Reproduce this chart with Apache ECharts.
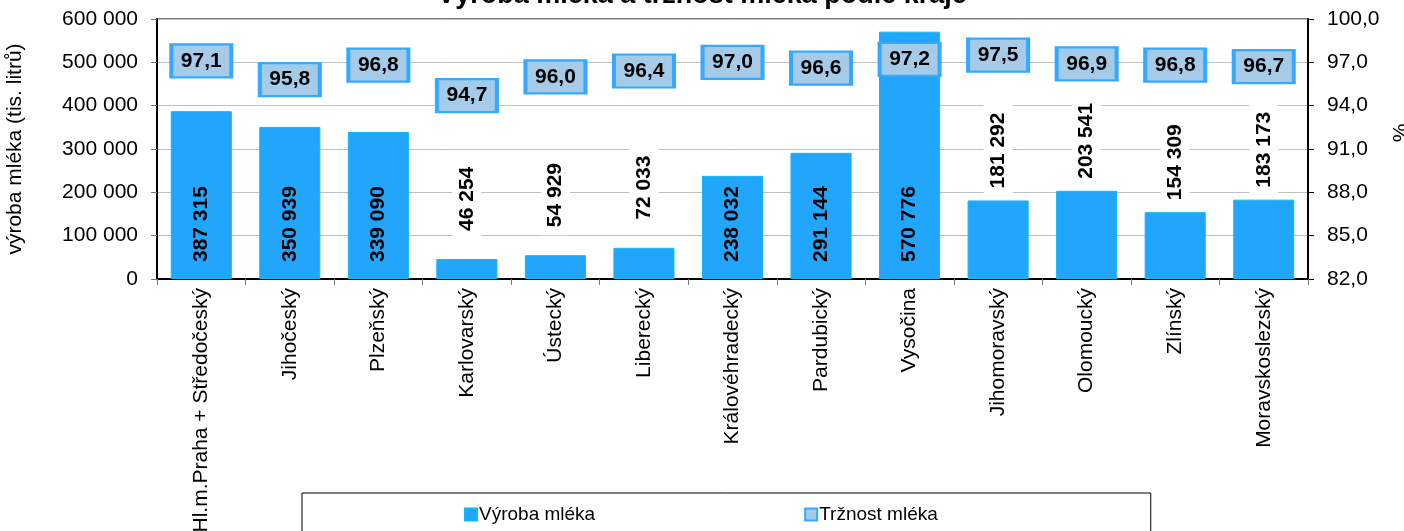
<!DOCTYPE html>
<html>
<head>
<meta charset="utf-8">
<script src="https://cdn.jsdelivr.net/npm/echarts@6/dist/echarts.min.js"></script>
<style>
  html, body { margin: 0; padding: 0; background: #fff; }
  #chart { width: 1404px; height: 531px; }
</style>
</head>
<body>
<div id="chart"></div>
<script>
const regions = [
  "Hl.m.Praha + Středočeský", "Jihočeský", "Plzeňský", "Karlovarský", "Ústecký",
  "Liberecký", "Královéhradecký", "Pardubický", "Vysočina", "Jihomoravský",
  "Olomoucký", "Zlínský", "Moravskoslezský"
];
const milkProduction = [387315, 350939, 339090, 46254, 54929, 72033, 238032, 291144, 570776, 181292, 203541, 154309, 183173];
const marketability = [97.1, 95.8, 96.8, 94.7, 96.0, 96.4, 97.0, 96.6, 97.2, 97.5, 96.9, 96.8, 96.7];

const FONT = "Liberation Sans, Arial, sans-serif";

function fmtThousands(v) {
  return String(v).replace(/\B(?=(\d{3})+(?!\d))/g, " ");
}
function fmtPct(v) {
  return v.toFixed(1).replace(".", ",");
}

// tall bars get the label inside, short ones above with a white box
const barData = milkProduction.map((v) => {
  if (v > 230000) {
    return {
      value: v,
      label: { position: "insideBottom", distance: 17 }
    };
  }
  return {
    value: v,
    label: {
      position: "top",
      distance: v < 100000 ? 20 : 4,
      backgroundColor: "#fff",
      padding: [4, 8]
    }
  };
});

const chart = echarts.init(document.getElementById("chart"));
chart.setOption({
  animation: false,
  textStyle: { fontFamily: FONT },
  title: {
    text: "Výroba mléka a tržnost mléka podle kraje",
    left: "center",
    top: -23,
    textStyle: { fontSize: 27, fontWeight: "bold", color: "#000", fontFamily: FONT }
  },
  grid: {
    left: 157, right: 96, top: 19, bottom: 252,
    outerBoundsMode: "none",
    containLabel: false,
    show: true, borderColor: "#000", borderWidth: 1
  },
  legend: {
    left: 302,
    top: 493,
    padding: [12, 213, 30, 162],
    itemGap: 209,
    itemWidth: 12,
    itemHeight: 12,
    borderColor: "#000",
    borderWidth: 1,
    textStyle: { fontSize: 19, color: "#000", fontFamily: FONT, padding: [0, 0, 0, -3] },
    data: [{ name: "Výroba mléka", icon: "rect" }, { name: "Tržnost mléka", icon: "rect" }]
  },
  xAxis: {
    type: "category",
    data: regions,
    axisLine: { lineStyle: { color: "#000", width: 2 } },
    axisTick: { show: true, length: 6, lineStyle: { color: "#777" } },
    axisLabel: { rotate: 90, fontSize: 21, color: "#000", margin: 9, fontFamily: FONT }
  },
  yAxis: [
    {
      type: "value",
      min: 0, max: 600000, interval: 100000,
      name: "výroba mléka (tis. litrů)",
      nameLocation: "middle",
      nameGap: 131,
      nameTextStyle: { fontSize: 21, color: "#000", fontFamily: FONT },
      axisLine: { show: true, lineStyle: { color: "#000", width: 2 } },
      axisTick: { show: true, length: 6, lineStyle: { color: "#777" } },
      axisLabel: { fontSize: 21, color: "#000", margin: 19, formatter: fmtThousands, fontFamily: FONT },
      splitLine: { lineStyle: { color: "#c0c0c0", width: 1 } }
    },
    {
      type: "value",
      min: 82, max: 100, interval: 3,
      name: "%",
      nameLocation: "middle",
      nameGap: 70,
      nameRotate: 90,
      nameTextStyle: { fontSize: 21, color: "#000", fontFamily: FONT, padding: [0, 0, 0, 32] },
      axisLine: { show: true, lineStyle: { color: "#000", width: 2 } },
      axisTick: { show: true, length: 6, lineStyle: { color: "#000" } },
      axisLabel: { fontSize: 21, color: "#000", margin: 19, formatter: fmtPct, fontFamily: FONT },
      splitLine: { show: false }
    }
  ],
  series: [
    {
      name: "Výroba mléka",
      type: "bar",
      barWidth: "69%",
      data: barData,
      itemStyle: { color: "#22a6fb", borderColor: "#12b8f2", borderWidth: 1 },
      label: {
        show: true,
        rotate: 90,
        align: "left",
        verticalAlign: "middle",
        fontSize: 21,
        fontWeight: "bold",
        color: "#000",
        fontFamily: FONT,
        formatter: (p) => fmtThousands(p.value)
      },
      z: 2
    },
    {
      name: "Tržnost mléka",
      type: "scatter",
      yAxisIndex: 1,
      data: marketability,
      symbol: "rect",
      symbolSize: [60, 33],
      itemStyle: { color: "#a6cbe9", borderColor: "#33aaff", borderWidth: 3, opacity: 1 },
      label: {
        show: true,
        position: "inside",
        fontSize: 21,
        fontWeight: "bold",
        color: "#000",
        fontFamily: FONT,
        formatter: (p) => fmtPct(p.value)
      },
      z: 5
    }
  ]
});
</script>
</body>
</html>
